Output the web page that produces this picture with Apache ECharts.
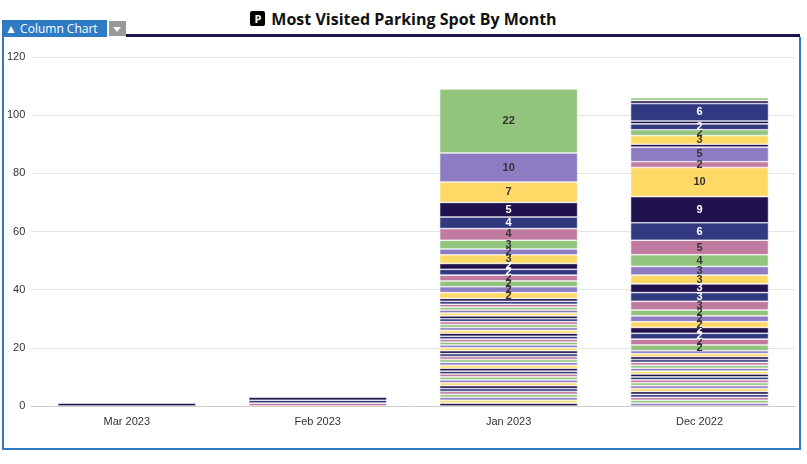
<!DOCTYPE html>
<html>
<head>
<meta charset="utf-8">
<script src="https://cdn.jsdelivr.net/npm/echarts@6/dist/echarts.min.js"></script>
<style>
body{margin:0;font-family:"Open Sans",sans-serif;background:#fff}
#tab{position:absolute;left:2px;top:20px;width:105px;height:17px;background:#2e7bc4;color:#fff;font-size:12px;line-height:17px}
#dd{position:absolute;left:109px;top:21px;width:17px;height:15px;background:#999}
#dd:after{content:"";position:absolute;left:4px;top:6px;border:4px solid transparent;border-top:5px solid #fff}
#bar{position:absolute;left:126px;top:34px;width:674px;height:3px;background:#20124d}
#title{position:absolute;left:0;width:807px;top:8px;text-align:center;font-weight:bold;font-size:16px;color:#111}
#title span{display:inline-block;background:#000;color:#fff;font-size:11px;width:15px;height:15px;line-height:15px;border-radius:2px;margin-right:6px;vertical-align:2px}
#box{position:absolute;left:2px;top:37px;width:795px;height:411px;border:2px solid #2e7bc4;border-top:none}
#main{width:795px;height:411px}
</style>
</head>
<body>
<div id="title"><span>P</span>Most Visited Parking Spot By Month</div>
<div id="tab">&nbsp;&#9650; Column Chart</div><div id="dd"></div><div id="bar"></div>
<div id="box"><div id="main"></div></div>
<script>
var categories = ['Mar 2023', 'Feb 2023', 'Jan 2023', 'Dec 2022'];
// segment counts per month, listed from top of column to bottom
var mar = [1];
var feb = [1, 1, 1];
var jan = [22, 10, 7, 5, 4, 4, 3, 2, 3, 2, 2, 2, 2, 2, 2,
  1,1,1,1,1,1,1,1,1,1,1,1,1,1,1,1,1,1,1,1,1,1,1,1,1,1,1,1,1,1,1,1,1,1,1,1,1];
var dec = [1, 1, 6, 1, 2, 2, 3, 1, 5, 2, 10, 9, 6, 5, 4, 3, 3, 3, 3, 3, 2, 2, 2, 2, 2, 2, 2,
  1,1,1,1,1,1,1,1,1,1,1,1,1,1,1,1,1,1,1];
var decTopColors = [0, 3, 4, 3, 4, 0, 2, 3, 1, 5];
var colorOffset = [3, 3, 0, 4];
var palette = ['#93c47d', '#8e7cc3', '#ffd966', '#20124d', '#313a80', '#c27ba0'];
var yTicks = [0, 20, 40, 60, 80, 100, 120];

var cols = [mar, feb, jan, dec];
var maxLen = Math.max.apply(null, cols.map(function (c) { return c.length; }));
var series = [];
for (var j = maxLen - 1; j >= 0; j--) {
  var data = cols.map(function (c, ci) {
    if (j >= c.length) return '-';
    var idx = (ci === 3 && j < decTopColors.length) ? decTopColors[j] : (j + colorOffset[ci]) % 6;
    var col = palette[idx];
    var dark = idx === 3 || idx === 4;
    return {
      value: c[j],
      itemStyle: { color: col },
      label: { show: c[j] >= 2, color: dark ? '#fff' : '#333' }
    };
  });
  series.push({
    type: 'bar', stack: 'all', barWidth: 138, data: data,
    itemStyle: { borderColor: '#fff', borderWidth: 0.6 },
    label: { position: 'inside', fontSize: 11, fontWeight: 'bold' }
  });
}
var chart = echarts.init(document.getElementById('main'));
chart.setOption({
  animation: false,
  grid: { left: 26, right: 4, top: 20, bottom: 42 },
  xAxis: { type: 'category', data: categories,
    axisLine: { lineStyle: { color: '#ccc' } }, axisTick: { show: false },
    axisLabel: { color: '#333', fontSize: 11, margin: 10 } },
  yAxis: { type: 'value', min: yTicks[0], max: yTicks[yTicks.length - 1], interval: 20,
    axisLabel: { color: '#333', fontSize: 11, margin: 6 },
    splitLine: { lineStyle: { color: '#e4e4e4' } } },
  series: series
});
</script>
</body>
</html>
